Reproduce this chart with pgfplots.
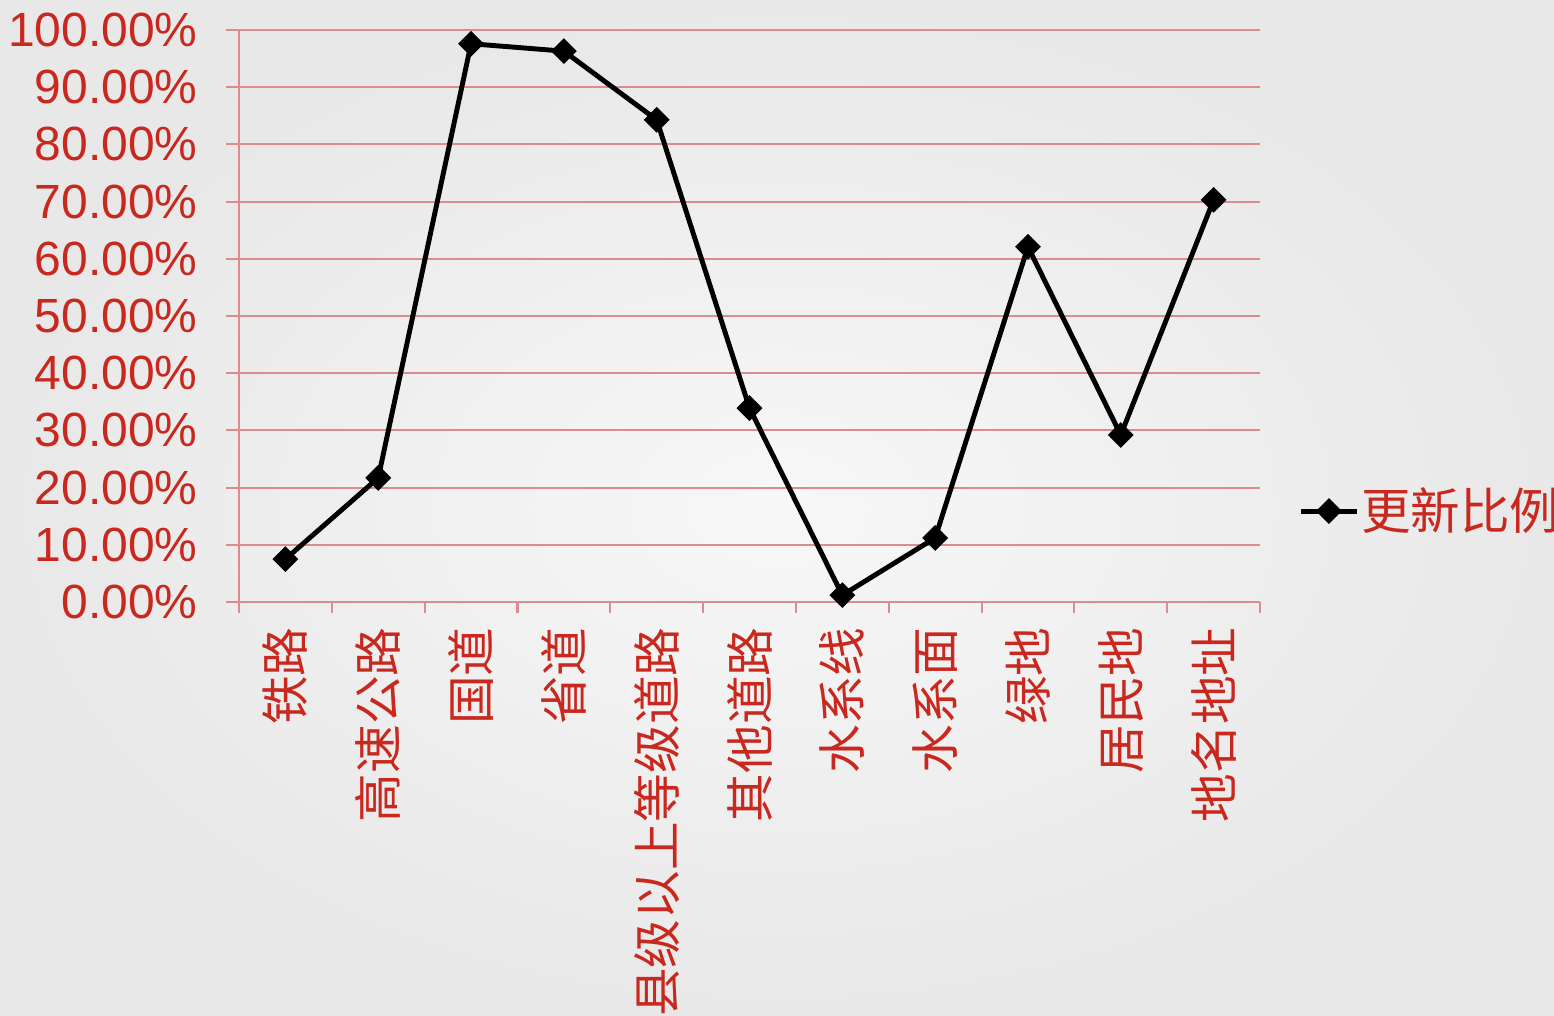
\documentclass[border=0pt]{standalone}
\usepackage{fontspec}
\setmainfont{Liberation Sans}
\newfontfamily\cjk{Noto Sans CJK SC}
\usepackage{pgfplots}
\pgfplotsset{compat=1.18}
\definecolor{textred}{RGB}{200,40,30}
\definecolor{gridred}{RGB}{218,140,142}

\begin{document}
\begin{tikzpicture}
\shade[inner color=white!97!black, outer color=black!9] (0,0) rectangle (15.54,10.15);
\begin{axis}[
  at={(2.39cm,4.13cm)}, anchor=south west,
  scale only axis, width=10.21cm, height=5.72cm,
  xmin=-0.5, xmax=10.5, ymin=0, ymax=100,
  axis x line*=bottom, axis y line*=left,
  axis line style={gridred, line width=0.6pt},
  xtick={0,...,10},
  xticklabels={铁路,高速公路,国道,省道,县级以上等级道路,其他道路,水系线,水系面,绿地,居民地,地名地址},
  minor xtick={-0.5,0.5,...,10.5},
  ytick={0,10,...,100},
  tick align=outside,
  major tick length=0.13cm, minor tick length=0.11cm,
  every tick/.style={gridred, line width=0.6pt},
  every major x tick/.append style={draw=none},
  ymajorgrids, grid style={gridred, line width=0.6pt},
  /pgf/number format/assume math mode=true,
  yticklabel={\pgfmathprintnumber[fixed,fixed zerofill,precision=2]{\tick}\%},
  yticklabel style={textred, font=\fontsize{13.65}{14}\selectfont, xshift=-0.16cm},
  xticklabel style={textred, rotate=90, anchor=east, font=\cjk\fontsize{13.85}{14}\selectfont},
  legend style={at={(1.037,0.159)}, anchor=west, draw=none, fill=none,
    font=\cjk\fontsize{14.1}{15}\selectfont, text=textred, inner sep=0pt,
    nodes={inner sep=0.5pt}},
  legend image code/.code={\draw[mark repeat=2,mark phase=2] plot coordinates {(0cm,0cm)(0.28cm,0cm)(0.56cm,0cm)};},
  clip=false,
]
\addplot[black, line width=1.4pt, mark=square*, mark size=1.9pt,
  mark options={rotate=45, solid}] coordinates {
  (0,7.5) (1,21.7) (2,97.6) (3,96.3) (4,84.3) (5,33.9)
  (6,1.2) (7,11.2) (8,62.1) (9,29.2) (10,70.3)};
\addlegendentry{更新比例}
\end{axis}
\pgfresetboundingbox
\useasboundingbox (0,0) rectangle (15.54,10.15);
\end{tikzpicture}
\end{document}
